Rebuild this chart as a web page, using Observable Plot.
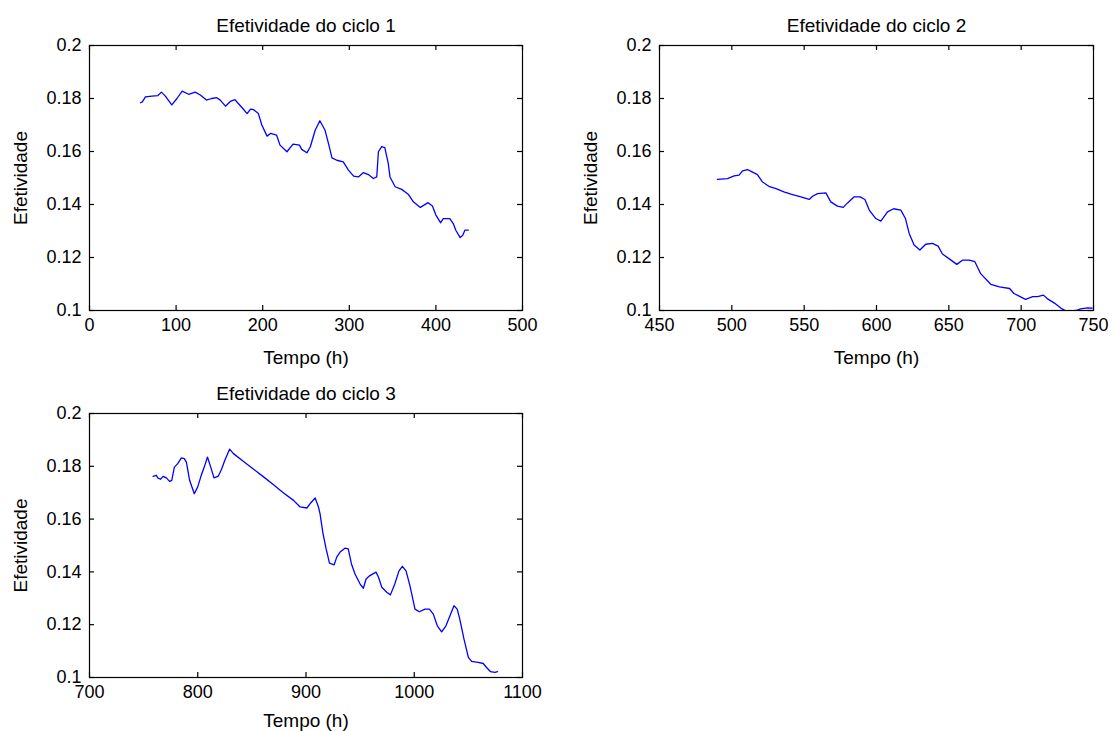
<!DOCTYPE html>
<html><head><meta charset="utf-8">
<script src="https://cdn.jsdelivr.net/npm/d3@7"></script>
<script src="https://cdn.jsdelivr.net/npm/@observablehq/plot@0.6"></script>
<style>
body{margin:0;background:#fff;}
#wrap{position:relative;width:1112px;height:731px;overflow:hidden;background:#fff;}
#wrap > div{position:absolute;}
</style></head><body><div id="wrap"></div>
<script>
const titles = ["Efetividade do ciclo 1", "Efetividade do ciclo 2", "Efetividade do ciclo 3"];
const xLabel = "Tempo (h)";
const yLabel = "Efetividade";
const yTicks = [0.1, 0.12, 0.14, 0.16, 0.18, 0.2];
const xTicks1 = [0, 100, 200, 300, 400, 500];
const xTicks2 = [450, 500, 550, 600, 650, 700, 750];
const xTicks3 = [700, 800, 900, 1000, 1100];

const tempo1 = [58.8, 61, 64.6, 72, 79, 83, 87.6, 95, 101, 107, 114.5, 122, 128, 135, 141, 147, 151, 157, 162.6, 168, 171, 176, 182, 186, 189.5, 195, 199, 205, 209, 216, 220, 228, 235, 242.5, 245, 251, 255, 260.6, 266, 272, 276, 280, 285.6, 293, 299, 305, 310.5, 316, 322, 327.8, 331.7, 333.6, 337.4, 341, 345, 347, 353, 360.5, 368, 374, 382, 391, 396, 400, 405.5, 408.5, 416, 420, 423, 428, 431, 433.5, 437.4];
const efet1 = [0.1784, 0.1787, 0.1806, 0.1809, 0.1811, 0.1824, 0.1809, 0.1776, 0.180, 0.1828, 0.1816, 0.1824, 0.1813, 0.1794, 0.180, 0.1803, 0.1794, 0.1771, 0.1789, 0.1796, 0.1784, 0.1766, 0.1743, 0.176, 0.1758, 0.1743, 0.170, 0.1658, 0.1668, 0.1662, 0.1624, 0.1599, 0.1628, 0.1624, 0.1608, 0.1595, 0.1618, 0.168, 0.1716, 0.168, 0.163, 0.1576, 0.1567, 0.1561, 0.153, 0.1507, 0.1504, 0.152, 0.1513, 0.1498, 0.1504, 0.1599, 0.1618, 0.1615, 0.1555, 0.1504, 0.1467, 0.1457, 0.1439, 0.141, 0.1389, 0.1407, 0.1394, 0.136, 0.1331, 0.1347, 0.1347, 0.1328, 0.1303, 0.1275, 0.1284, 0.1303, 0.1303];

const tempo2 = [490, 492.4, 497, 501.6, 505, 507.4, 510.8, 514, 517.7, 521, 526, 530.6, 536, 540.8, 547.7, 553.5, 555.8, 559.3, 565, 568.4, 573, 577, 580, 584.6, 588.7, 592, 595, 599.5, 603, 607.6, 611.8, 616.8, 620, 622.6, 626, 630, 634, 638.7, 642.6, 645.6, 651, 655.5, 659.4, 664, 668, 672, 679, 685, 692, 695, 703, 708, 711.3, 715.4, 718, 723, 727.4, 731, 738, 741, 746, 749];
const efet2 = [0.1495, 0.1496, 0.1498, 0.1508, 0.1511, 0.1527, 0.1532, 0.1523, 0.1513, 0.1486, 0.1467, 0.146, 0.1448, 0.1439, 0.1429, 0.1419, 0.1431, 0.1441, 0.1444, 0.141, 0.1394, 0.1389, 0.1406, 0.1429, 0.1429, 0.1419, 0.1379, 0.1347, 0.1337, 0.1372, 0.1384, 0.1379, 0.1347, 0.1291, 0.1247, 0.1228, 0.125, 0.1253, 0.1243, 0.1213, 0.1192, 0.1174, 0.119, 0.119, 0.1184, 0.1139, 0.1099, 0.1089, 0.1083, 0.1064, 0.1042, 0.1052, 0.1052, 0.1058, 0.1045, 0.1028, 0.1009, 0.0998, 0.1, 0.1006, 0.101, 0.1009];

const tempo3 = [758.7, 761.8, 763, 765.5, 768, 771, 774, 776, 778.4, 781.5, 784.9, 787.6, 789.5, 792.5, 796.8, 800, 803, 806, 809, 812, 815, 819, 822, 825, 829.4, 833, 842, 851.6, 860.8, 870, 879, 888.5, 894.6, 900.8, 904.5, 908.5, 911.5, 913, 915.5, 918.6, 921.7, 926, 928.4, 931.5, 936, 939, 942, 945.3, 950, 953, 955.5, 959, 964.7, 967, 970, 974.6, 978, 982, 985.9, 989, 992.4, 996, 1000.7, 1004.7, 1010, 1014, 1017.6, 1021.3, 1025.3, 1029.3, 1033, 1036.7, 1039.7, 1042, 1045.9, 1050, 1053, 1059, 1063.7, 1066.8, 1070.5, 1074.5, 1077];
const efet3 = [0.1762, 0.1766, 0.1756, 0.1751, 0.1762, 0.1756, 0.1743, 0.1747, 0.1797, 0.181, 0.1832, 0.1829, 0.1816, 0.1747, 0.1696, 0.1722, 0.1763, 0.1797, 0.1835, 0.1797, 0.1756, 0.1763, 0.1789, 0.1823, 0.1865, 0.1848, 0.1819, 0.1789, 0.176, 0.173, 0.170, 0.1671, 0.1646, 0.1642, 0.1662, 0.168, 0.1646, 0.162, 0.155, 0.1487, 0.1433, 0.1427, 0.1456, 0.1475, 0.149, 0.1487, 0.143, 0.1392, 0.1354, 0.1338, 0.1373, 0.1386, 0.1399, 0.138, 0.1342, 0.1323, 0.1313, 0.1354, 0.1404, 0.1421, 0.1404, 0.1348, 0.1259, 0.1249, 0.1259, 0.1259, 0.124, 0.1196, 0.1173, 0.1196, 0.1234, 0.1272, 0.1259, 0.1222, 0.1146, 0.1076, 0.1061, 0.1057, 0.1053, 0.1038, 0.1022, 0.1019, 0.1022];

const fmtY = d => String(+d.toFixed(2));
const fmtX = d => String(d);
const FONT = "'Liberation Sans', Arial, sans-serif";
const yDomain = [0.1, 0.2];

function panel(o) {
  const data = o.xs.map((x, i) => ({x, y: o.ys[i]}));
  const fh = o.height - o.mT - o.mB;
  const fw = o.width - o.mL - o.mR;
  const t = 5;
  const dy = (yDomain[1] - yDomain[0]) * t / fh;
  const dx = (o.xDomain[1] - o.xDomain[0]) * t / fw;
  const chart = Plot.plot({
    width: o.width, height: o.height,
    marginLeft: o.mL, marginRight: o.mR, marginTop: o.mT, marginBottom: o.mB,
    style: {fontFamily: FONT, fontSize: "18px", color: "#000", background: "#fff", overflow: "visible"},
    x: {domain: o.xDomain},
    y: {domain: yDomain},
    marks: [
      Plot.axisX(o.xTicks, {tickSize: 0, tickPadding: 8, tickFormat: fmtX, label: null, fontSize: 18}),
      Plot.axisY(yTicks, {tickSize: 0, tickPadding: 8, tickFormat: fmtY, label: null, fontSize: 18}),
      Plot.ruleX(o.xTicks, {x: d => d, y1: yDomain[0], y2: yDomain[0] + dy, stroke: "black", strokeWidth: 1.2}),
      Plot.ruleX(o.xTicks, {x: d => d, y1: yDomain[1], y2: yDomain[1] - dy, stroke: "black", strokeWidth: 1.2}),
      Plot.ruleY(yTicks, {y: d => d, x1: o.xDomain[0], x2: o.xDomain[0] + dx, stroke: "black", strokeWidth: 1.2}),
      Plot.ruleY(yTicks, {y: d => d, x1: o.xDomain[1], x2: o.xDomain[1] - dx, stroke: "black", strokeWidth: 1.2}),
      Plot.line(data, {x: "x", y: "y", stroke: "#0000ff", strokeWidth: 1.3, clip: true}),
      Plot.frame({stroke: "black", strokeWidth: 1.2}),
      Plot.text([o.title], {text: d => d, frameAnchor: "top", textAnchor: "middle", dy: -14, lineAnchor: "bottom", fontSize: 19, fill: "#000"}),
      Plot.text([xLabel], {text: d => d, frameAnchor: "bottom", textAnchor: "middle", dy: o.xlOff, lineAnchor: "bottom", fontSize: 19, fill: "#000"}),
      Plot.text([yLabel], {text: d => d, frameAnchor: "left", textAnchor: "middle", dx: -69, rotate: -90, fontSize: 19, fill: "#000"})
    ]
  });
  const div = document.createElement("div");
  div.style.left = o.left + "px";
  div.style.top = o.top + "px";
  div.appendChild(chart);
  document.getElementById("wrap").appendChild(div);
}

panel({title: titles[0], xs: tempo1, ys: efet1, xDomain: [0, 500], xTicks: xTicks1, xlOff: 53,
  left: 0, top: 0, width: 545, height: 368, mL: 89, mR: 23, mT: 45, mB: 58});
panel({title: titles[1], xs: tempo2, ys: efet2, xDomain: [450, 750], xTicks: xTicks2, xlOff: 53,
  left: 570, top: 0, width: 542, height: 368, mL: 89, mR: 19, mT: 45, mB: 58});
panel({title: titles[2], xs: tempo3, ys: efet3, xDomain: [700, 1100], xTicks: xTicks3, xlOff: 49,
  left: 0, top: 368, width: 545, height: 363, mL: 89, mR: 23, mT: 45, mB: 54});
</script>
</body></html>
